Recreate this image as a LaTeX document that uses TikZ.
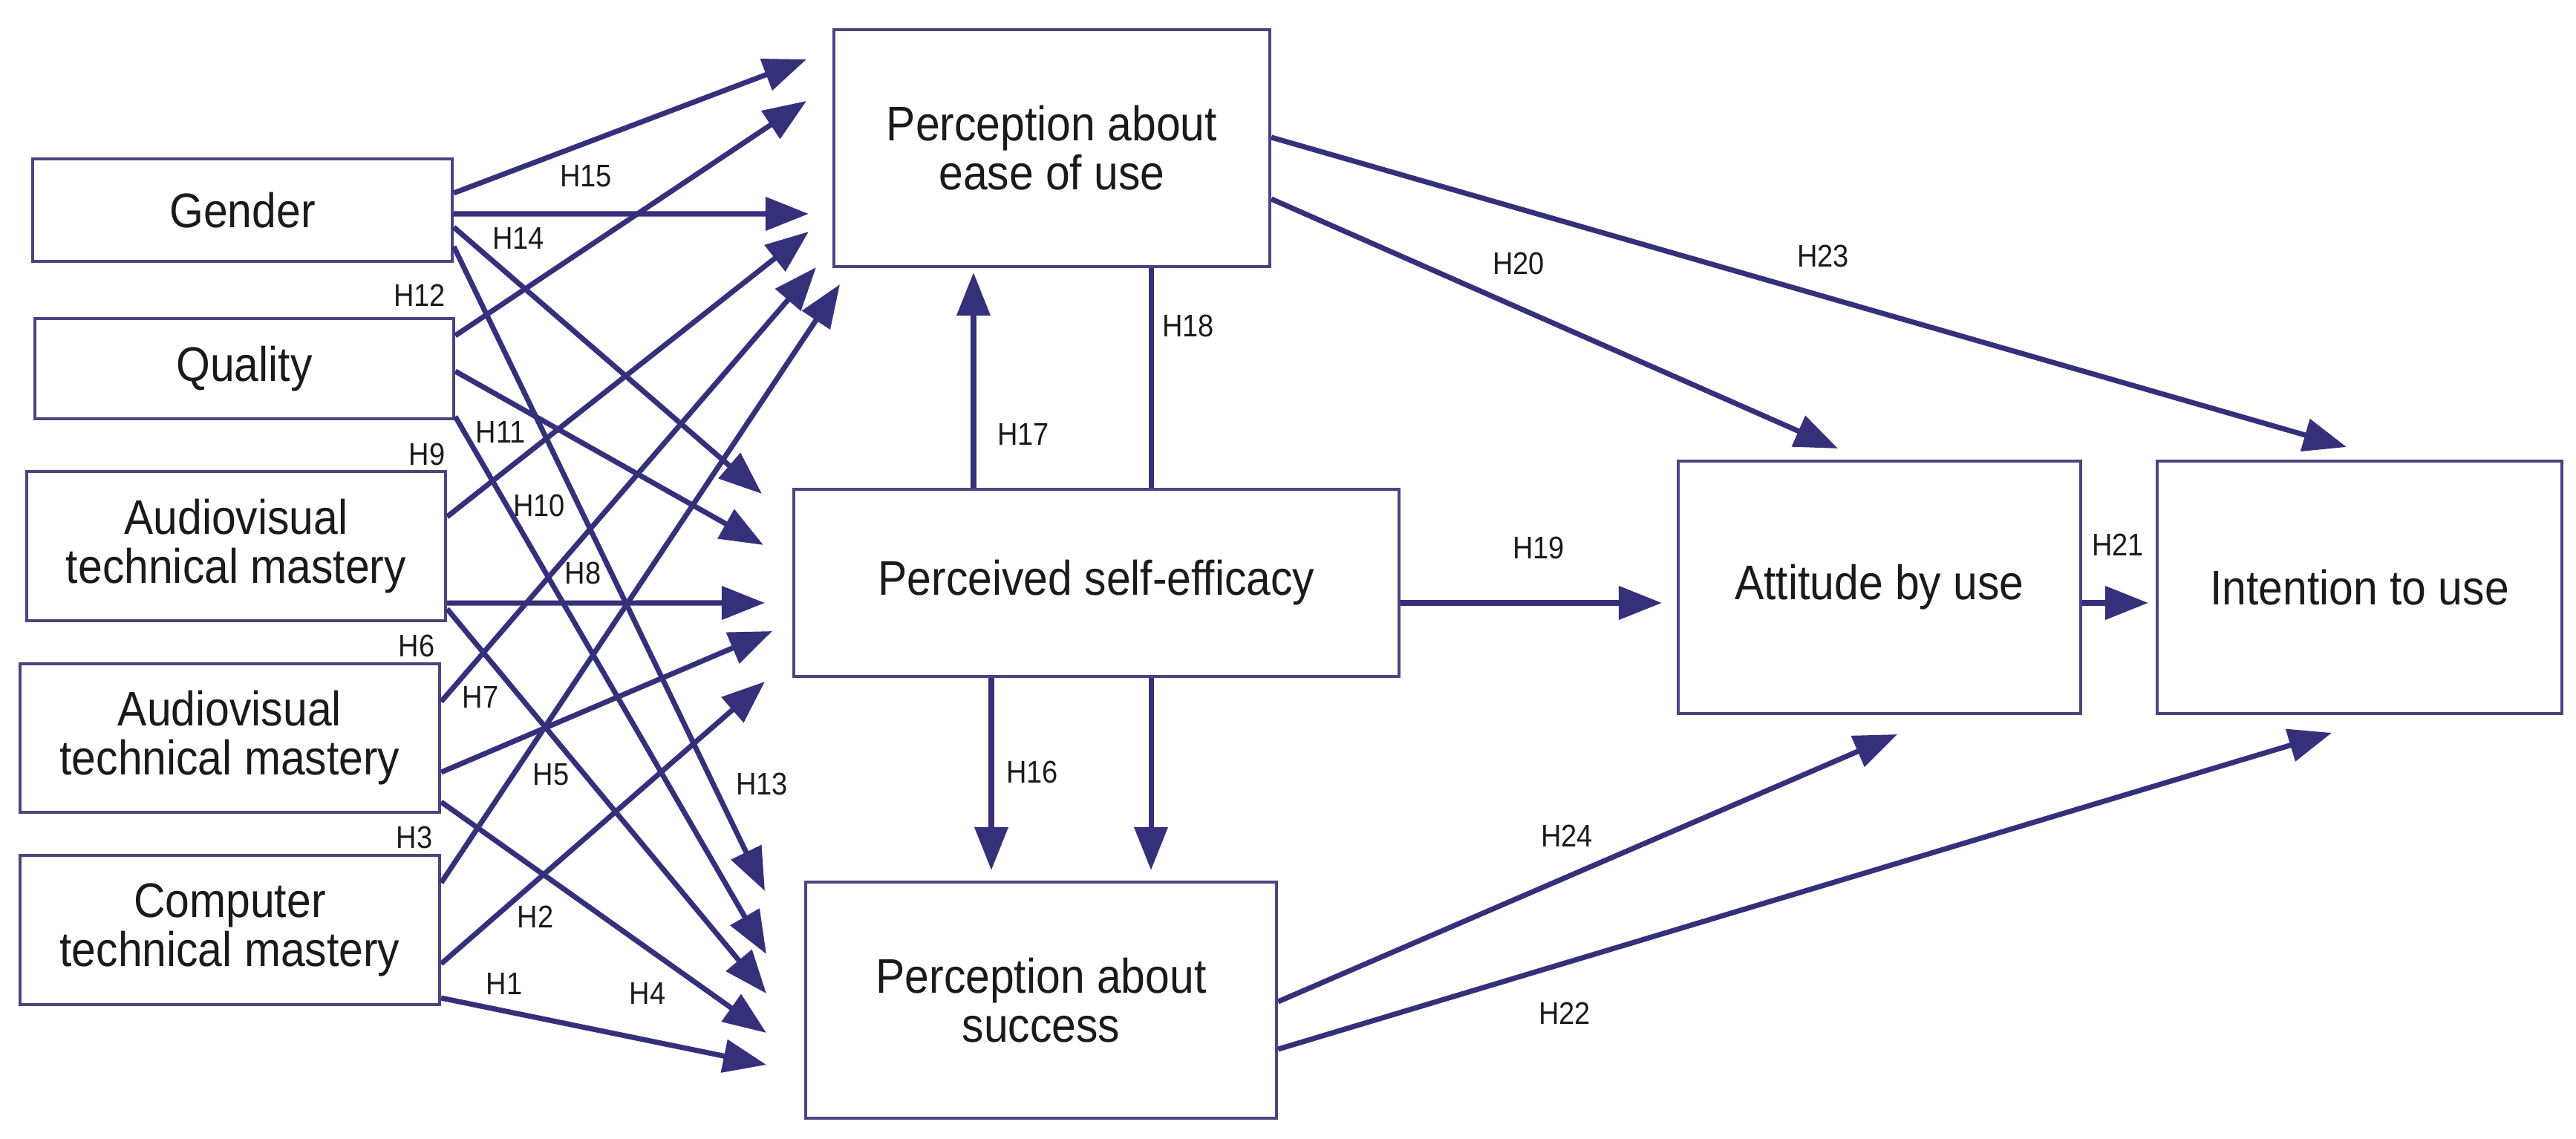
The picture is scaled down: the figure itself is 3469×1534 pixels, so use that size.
\documentclass[tikz,border=0pt]{standalone}
\usepackage{fontspec}
\setmainfont{Liberation Sans}[FakeStretch=0.9]
\usetikzlibrary{arrows.meta}
\definecolor{ln}{HTML}{35307A}
\definecolor{bx}{HTML}{4A4580}
\definecolor{tx}{HTML}{1A1A1A}
\begin{document}
\begin{tikzpicture}[x=0.01cm,y=-0.01cm,
  box/.style={draw=bx,line width=1.1pt,fill=white,align=center,text=tx,
    font=\fontsize{18.6}{18.8}\selectfont,inner sep=0pt},
  arr/.style={draw=ln,line width=2pt,-{Triangle[length=0.58cm,width=0.44cm]}},
  pl/.style={draw=ln,line width=2pt},
  lab/.style={text=tx,font=\fontsize{12}{13}\selectfont,inner sep=0pt}]
\useasboundingbox (0,0) rectangle (3469,1534);
% boxes
\node[box,minimum width=5.65cm,minimum height=1.38cm] (g) at (326.5,283) {Gender};
\node[box,minimum width=5.64cm,minimum height=1.35cm] (q) at (329,496.5) {Quality};
\node[box,minimum width=5.64cm,minimum height=2.01cm] (av1) at (318,735.5) {Audiovisual\\technical mastery};
\node[box,minimum width=5.65cm,minimum height=2.00cm] (av2) at (309.5,994) {Audiovisual\\technical mastery};
\node[box,minimum width=5.65cm,minimum height=2.01cm] (ct) at (309.5,1252.5) {Computer\\technical mastery};
\node[box,minimum width=5.87cm,minimum height=3.19cm] (ease) at (1416.5,199.5) {Perception about\\ease of use};
\node[box,minimum width=8.15cm,minimum height=2.52cm] (se) at (1476.5,785) {Perceived self-efficacy};
\node[box,minimum width=6.34cm,minimum height=3.18cm] (suc) at (1402,1347) {Perception about\\success};
\node[box,minimum width=5.42cm,minimum height=3.40cm] (att) at (2531,791) {Attitude by use};
\node[box,minimum width=5.45cm,minimum height=3.40cm] (int) at (3177.5,791) {Intention to use};
% arrow tips
\coordinate (A1) at (1086,80);
\coordinate (A2) at (1086,136);
\coordinate (A3) at (1089,288);
\coordinate (A4) at (1089,312);
\coordinate (A5) at (1099,360);
\coordinate (A6) at (1131,383);
\coordinate (S1) at (1026,665);
\coordinate (S2) at (1028,734);
\coordinate (S3) at (1030,812);
\coordinate (S4) at (1040,850);
\coordinate (S5) at (1030,918);
\coordinate (U1) at (1030,1200);
\coordinate (U2) at (1032,1285);
\coordinate (U3) at (1032,1338);
\coordinate (U4) at (1032,1391);
\coordinate (U5) at (1032,1434);
% left arrows
\draw[arr] ([yshift=0.23cm]g.east) -- (A1);
\draw[arr] ([yshift=-0.05cm]g.east) -- (A3);
\draw[arr] ([yshift=-0.23cm]g.east) -- (S1);
\draw[arr] ([yshift=-0.49cm]g.east) -- (U1);
\draw[arr] ([yshift=0.445cm]q.east) -- (A2);
\draw[arr] ([yshift=-0.035cm]q.east) -- (S2);
\draw[arr] ([yshift=-0.645cm]q.east) -- (U2);
\draw[arr] ([yshift=0.395cm]av1.east) -- (A4);
\draw[arr] ([yshift=-0.765cm]av1.east) -- (S3);
\draw[arr] ([yshift=-0.845cm]av1.east) -- (U3);
\draw[arr] ([yshift=0.49cm]av2.east) -- (A5);
\draw[arr] ([yshift=-0.46cm]av2.east) -- (S4);
\draw[arr] ([yshift=-0.86cm]av2.east) -- (U4);
\draw[arr] ([yshift=0.635cm]ct.east) -- (A6);
\draw[arr] ([yshift=-0.455cm]ct.east) -- (S5);
\draw[arr] ([yshift=-0.915cm]ct.east) -- (U5);
% vertical
\coordinate (t17) at (1311,367);
\coordinate (c18) at (1550,0);
\coordinate (t16) at (1335,1172);
\coordinate (t16b) at (1550,1172);
\draw[arr] (se.north -| t17) -- (t17);
\draw[pl] (se.north -| c18) -- (ease.south -| c18);
\draw[arr] (se.south -| t16) -- (t16);
\draw[arr] (se.south -| t16b) -- (t16b);
% right
\coordinate (t19) at (2238,812);
\coordinate (t21) at (2893,812);
\coordinate (t20) at (2475,604);
\coordinate (t23) at (3160,602);
\coordinate (t24) at (2555,989);
\coordinate (t22) at (3140,987);
\draw[arr] (se.east |- t19) -- (t19);
\draw[arr] (att.east |- t21) -- (t21);
\draw[arr] ([yshift=-0.685cm]ease.east) -- (t20);
\draw[arr] ([yshift=0.145cm]ease.east) -- (t23);
\draw[arr] ([yshift=-0.02cm]suc.east) -- (t24);
\draw[arr] ([yshift=-0.66cm]suc.east) -- (t22);
% labels
\node[lab] (l15) at (789,237) {H15};
\node[lab] (l14) at (698,321) {H14};
\node[lab] (l12) at (565,398) {H12};
\node[lab] (l11) at (674,582) {H11};
\node[lab] (l9) at (575,612) {H9};
\node[lab] (l10) at (726,681) {H10};
\node[lab] (l8) at (785,772) {H8};
\node[lab] (l6) at (561,870) {H6};
\node[lab] (l7) at (647,939) {H7};
\node[lab] (l5) at (742,1043) {H5};
\node[lab] (l13) at (1026,1056) {H13};
\node[lab] (l3) at (558,1128) {H3};
\node[lab] (l2) at (721,1235) {H2};
\node[lab] (l1) at (679,1325) {H1};
\node[lab] (l4) at (872,1338) {H4};
\node[lab] (l18) at (1600,439) {H18};
\node[lab] (l17) at (1378,585) {H17};
\node[lab] (l16) at (1390,1040) {H16};
\node[lab] (l20) at (2045,355) {H20};
\node[lab] (l23) at (2455,345) {H23};
\node[lab] (l19) at (2072,738) {H19};
\node[lab] (l21) at (2852,734) {H21};
\node[lab] (l24) at (2110,1126) {H24};
\node[lab] (l22) at (2107,1365) {H22};
\end{tikzpicture}
\end{document}
